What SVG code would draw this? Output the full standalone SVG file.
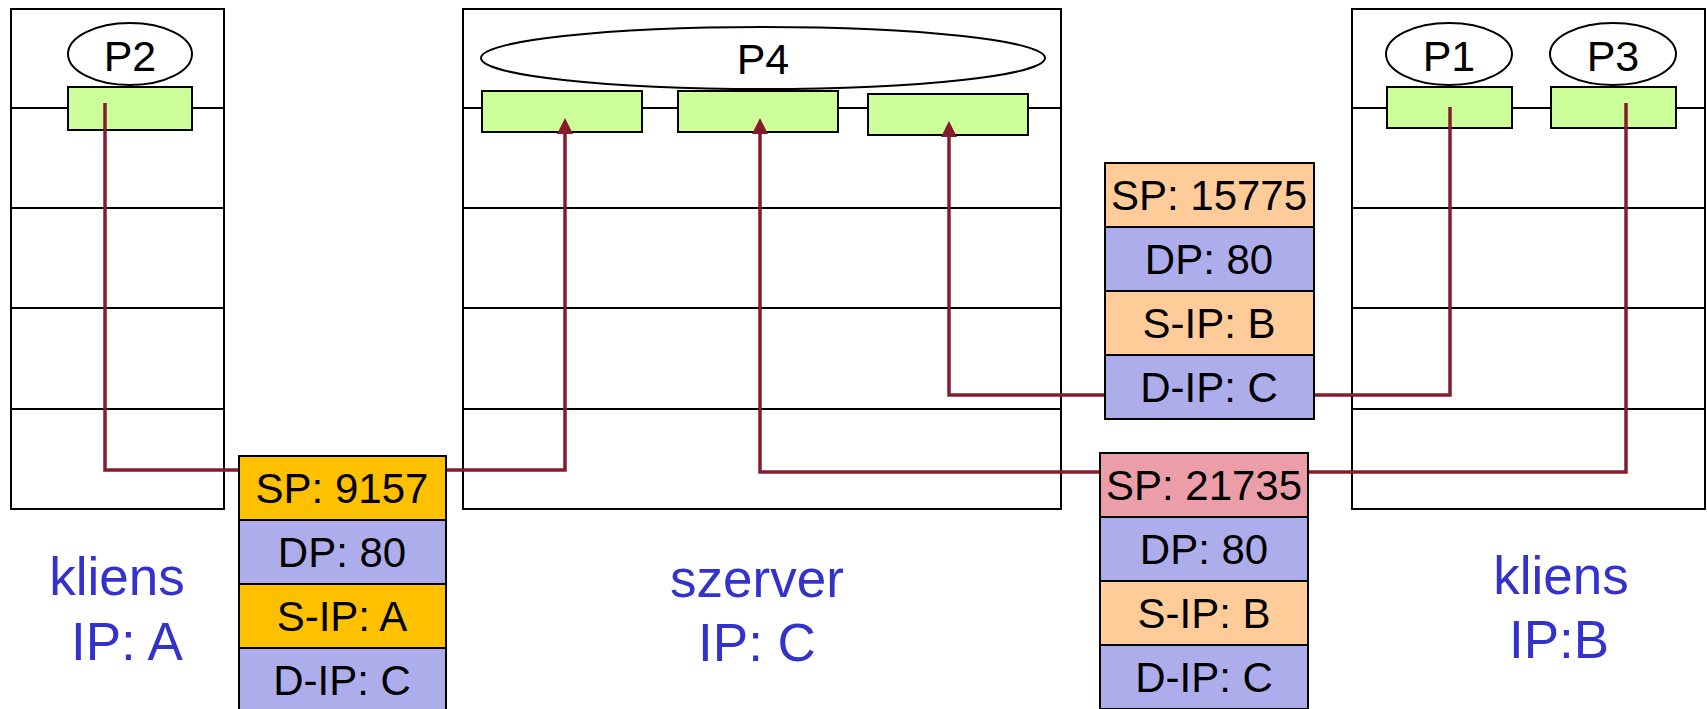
<svg xmlns="http://www.w3.org/2000/svg" width="1707" height="709" viewBox="0 0 1707 709">
<style>
.box{fill:#fff;stroke:#000;stroke-width:2}
.rl{stroke:#000;stroke-width:2;fill:none}
.proc{fill:#fff;stroke:#000;stroke-width:2}
.sock{fill:#CCFF99;stroke:#000;stroke-width:2}
.pt{font-family:"Liberation Sans",Arial,sans-serif;font-size:43px;fill:#000;text-anchor:middle}
.ft{font-family:"Liberation Sans",Arial,sans-serif;font-size:42px;fill:#000;text-anchor:middle}
.lbl{font-family:"Liberation Sans",Arial,sans-serif;font-size:53px;fill:#3333CC;text-anchor:middle}
.conn{fill:none;stroke:#861B2D;stroke-width:3.5}
.f{stroke:#000;stroke-width:2}
.y{fill:#FFC000}.b{fill:#ADADEB}.o{fill:#FFCC99}.p{fill:#EC9EA8}
</style>
<defs>
<marker id="ah" markerUnits="userSpaceOnUse" viewBox="0 0 16 16" refX="12" refY="8" markerWidth="16" markerHeight="16" orient="auto">
<path d="M0,0 L16,8 L0,16 z" fill="#861B2D"/>
</marker>
</defs>

<g id="host-A">
<rect class="box" x="11" y="9" width="213" height="500"/>
<path class="rl" d="M11,108H224M11,208H224M11,308H224M11,409H224"/>
<ellipse class="proc" cx="130" cy="54" rx="62" ry="31"/>
<text class="pt" x="130" y="71">P2</text>
<rect class="sock" x="68" y="87" width="124" height="43"/>
<text class="lbl" x="117" y="595">kliens</text>
<text class="lbl" x="127" y="660">IP: A</text>
</g>

<g id="server-C">
<rect class="box" x="463" y="9" width="598" height="500"/>
<path class="rl" d="M463,108H1061M463,208H1061M463,308H1061M463,409H1061"/>
<ellipse class="proc" cx="763" cy="58" rx="282" ry="31"/>
<text class="pt" x="763" y="74">P4</text>
<rect class="sock" x="482" y="91" width="160" height="41"/>
<rect class="sock" x="678" y="91" width="160" height="41"/>
<rect class="sock" x="868" y="94" width="160" height="41"/>
<text class="lbl" x="757" y="597">szerver</text>
<text class="lbl" x="757" y="661">IP: C</text>
</g>

<g id="host-B">
<rect class="box" x="1352" y="9" width="353" height="500"/>
<path class="rl" d="M1352,108H1705M1352,208H1705M1352,308H1705M1352,409H1705"/>
<ellipse class="proc" cx="1449" cy="54" rx="63" ry="31"/>
<text class="pt" x="1449" y="71">P1</text>
<ellipse class="proc" cx="1613" cy="54" rx="63" ry="31"/>
<text class="pt" x="1613" y="71">P3</text>
<rect class="sock" x="1387" y="87" width="125" height="41"/>
<rect class="sock" x="1551" y="87" width="125" height="41"/>
<text class="lbl" x="1561" y="594">kliens</text>
<text class="lbl" x="1559" y="658">IP:B</text>
</g>

<g id="connectors">
<path class="conn" d="M105,103V470H565V122" marker-end="url(#ah)"/>
<path class="conn" d="M1626,103V472H760V122" marker-end="url(#ah)"/>
<path class="conn" d="M1450,107V395H949V125" marker-end="url(#ah)"/>
</g>

<g id="packet-A-C">
<rect class="f y" x="239" y="456" width="207" height="64"/>
<rect class="f b" x="239" y="520" width="207" height="64"/>
<rect class="f y" x="239" y="584" width="207" height="64"/>
<rect class="f b" x="239" y="648" width="207" height="64"/>
<text class="ft" x="342" y="503">SP: 9157</text>
<text class="ft" x="342" y="567">DP: 80</text>
<text class="ft" x="342" y="631">S-IP: A</text>
<text class="ft" x="342" y="695">D-IP: C</text>
</g>

<g id="packet-B-C-1">
<rect class="f o" x="1105" y="163" width="209" height="64"/>
<rect class="f b" x="1105" y="227" width="209" height="64"/>
<rect class="f o" x="1105" y="291" width="209" height="64"/>
<rect class="f b" x="1105" y="355" width="209" height="64"/>
<text class="ft" x="1209" y="210">SP: 15775</text>
<text class="ft" x="1209" y="274">DP: 80</text>
<text class="ft" x="1209" y="338">S-IP: B</text>
<text class="ft" x="1209" y="402">D-IP: C</text>
</g>

<g id="packet-B-C-2">
<rect class="f p" x="1100" y="453" width="208" height="64"/>
<rect class="f b" x="1100" y="517" width="208" height="64"/>
<rect class="f o" x="1100" y="581" width="208" height="64"/>
<rect class="f b" x="1100" y="645" width="208" height="64"/>
<text class="ft" x="1204" y="500">SP: 21735</text>
<text class="ft" x="1204" y="564">DP: 80</text>
<text class="ft" x="1204" y="628">S-IP: B</text>
<text class="ft" x="1204" y="692">D-IP: C</text>
</g>
</svg>
